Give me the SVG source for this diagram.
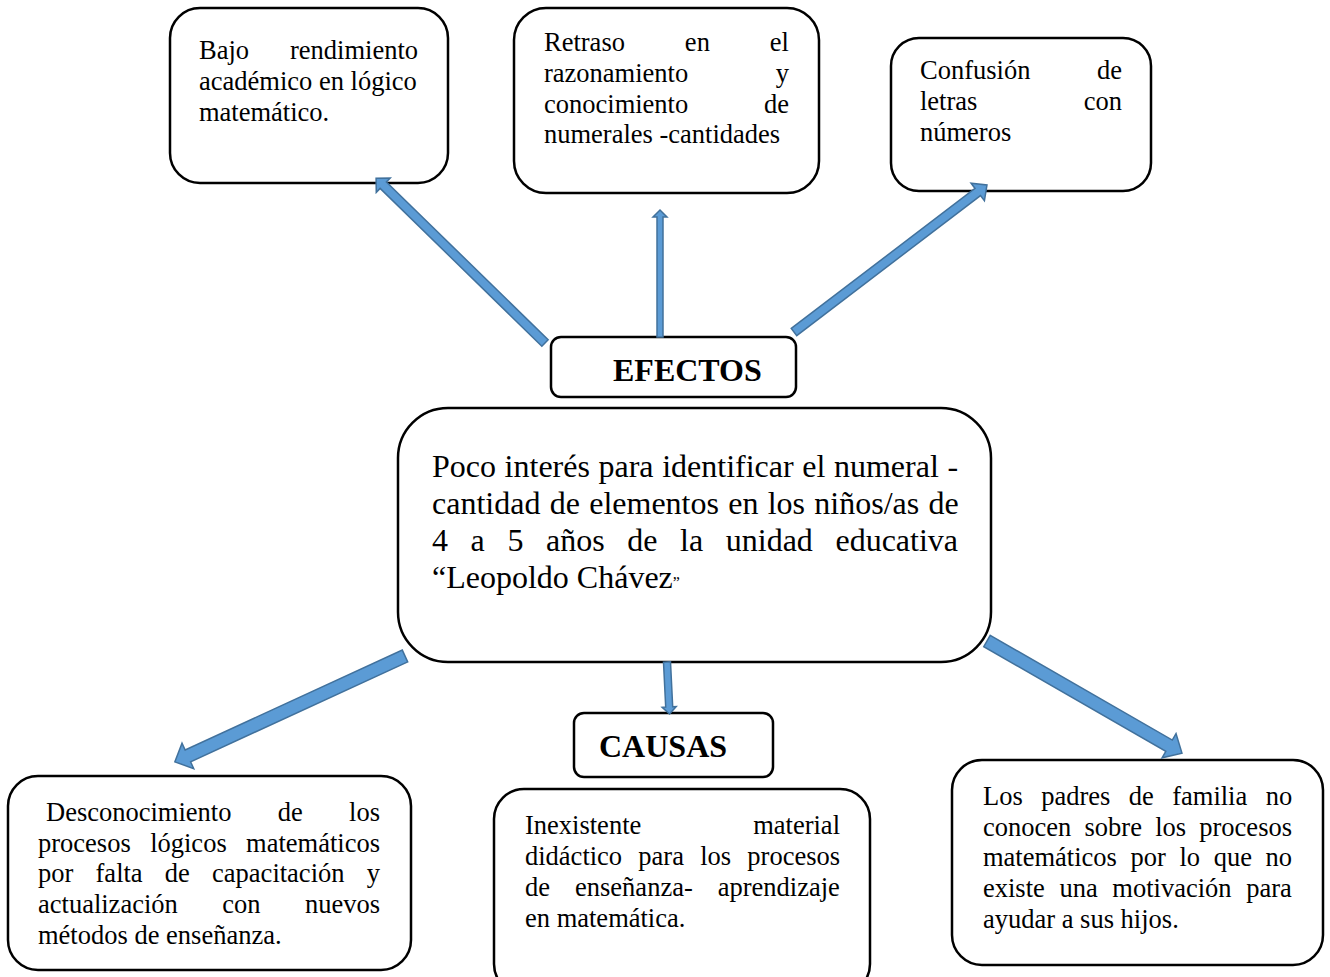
<svg xmlns="http://www.w3.org/2000/svg" width="1330" height="977" viewBox="0 0 1330 977">
<style>
.box{fill:#fff;stroke:#000;stroke-width:2.5}
.t{font-family:"Liberation Serif","Times New Roman",serif;font-size:26.5px;fill:#000}
.c{font-family:"Liberation Serif","Times New Roman",serif;font-size:32px;fill:#000}
.h{font-family:"Liberation Serif","Times New Roman",serif;font-size:32px;font-weight:bold;fill:#000}
.arr{fill:#5B9BD5;stroke:#41719C;stroke-width:1.5;stroke-linejoin:miter}
</style>
<rect width="1330" height="977" fill="#fff"/>
<g id="efecto1">
<rect class="box" x="170" y="8" width="278" height="175" rx="30"/>
<text class="t" x="199" y="59" word-spacing="34.3">Bajo rendimiento</text>
<text class="t" x="199" y="90">académico en lógico</text>
<text class="t" x="199" y="121">matemático.</text>
</g>
<g id="efecto2">
<rect class="box" x="514" y="8" width="305" height="185" rx="32"/>
<text class="t" x="544" y="51" word-spacing="53.3">Retraso en el</text>
<text class="t" x="544" y="82" word-spacing="80.9">razonamiento y</text>
<text class="t" x="544" y="113" word-spacing="69.1">conocimiento de</text>
<text class="t" x="544" y="143">numerales -cantidades</text>
</g>
<g id="efecto3">
<rect class="box" x="891" y="38" width="260" height="153" rx="28"/>
<text class="t" x="920" y="79" word-spacing="60">Confusión de</text>
<text class="t" x="920" y="110" word-spacing="99.7">letras con</text>
<text class="t" x="920" y="141">números</text>
</g>
<g id="efectos">
<rect class="box" x="551" y="337" width="245" height="60" rx="10"/>
<text class="h" x="613" y="381">EFECTOS</text>
</g>
<g id="problema">
<rect class="box" x="398" y="408" width="593" height="254" rx="50"/>
<text class="c" x="432" y="477" word-spacing="0.6">Poco interés para identificar el numeral -</text>
<text class="c" x="432" y="514" word-spacing="1.3">cantidad de elementos en los niños/as de</text>
<text class="c" x="432" y="551" word-spacing="14.6">4 a 5 años de la unidad educativa</text>
<text class="c" x="432" y="588">“Leopoldo Chávez<tspan font-size="16">”</tspan></text>
</g>
<g id="causas">
<rect class="box" x="574" y="713" width="199" height="64" rx="10"/>
<text class="h" x="599" y="757">CAUSAS</text>
</g>
<g id="causa1">
<rect class="box" x="8" y="776" width="403" height="194" rx="30"/>
<text class="t" x="46" y="821" word-spacing="39.7">Desconocimiento de los</text>
<text class="t" x="38" y="852" word-spacing="12.8">procesos lógicos matemáticos</text>
<text class="t" x="38" y="882" word-spacing="15.6">por falta de capacitación y</text>
<text class="t" x="38" y="913" word-spacing="37.8">actualización con nuevos</text>
<text class="t" x="38" y="944">métodos de enseñanza.</text>
</g>
<g id="causa2">
<rect class="box" x="494" y="789" width="376" height="205" rx="30"/>
<text class="t" x="525" y="834" word-spacing="105.3">Inexistente material</text>
<text class="t" x="525" y="865" word-spacing="9.6">didáctico para los procesos</text>
<text class="t" x="525" y="896" word-spacing="18.4">de enseñanza- aprendizaje</text>
<text class="t" x="525" y="927">en matemática.</text>
</g>
<g id="causa3">
<rect class="box" x="952" y="760" width="371" height="205" rx="30"/>
<text class="t" x="983" y="805" word-spacing="11.8">Los padres de familia no</text>
<text class="t" x="983" y="836" word-spacing="6.6">conocen sobre los procesos</text>
<text class="t" x="983" y="866" word-spacing="7">matemáticos por lo que no</text>
<text class="t" x="983" y="897" word-spacing="8">existe una motivación para</text>
<text class="t" x="983" y="928">ayudar a sus hijos.</text>
</g>
<g id="connectors">
<polygon class="arr" transform="translate(545,343) rotate(224.3)" points="0,-4.5 226,-4.5 226,-10 236,0 226,10 226,4.5 0,4.5"/>
<polygon class="arr" transform="translate(660,337) rotate(-90)" points="0,-3 120,-3 120,-7 127,0 120,7 120,3 0,3"/>
<polygon class="arr" transform="translate(794,332) rotate(-37.3)" points="0,-4.5 231,-4.5 231,-11 242.6,0 231,11 231,4.5 0,4.5"/>
<polygon class="arr" transform="translate(405,656) rotate(155.3)" points="0,-6.5 239,-6.5 239,-14 253.3,0 239,14 239,6.5 0,6.5"/>
<polygon class="arr" transform="translate(667,662) rotate(87.2)" points="0,-3.5 45,-3.5 45,-7 52,0 45,7 45,3.5 0,3.5"/>
<polygon class="arr" transform="translate(987,641) rotate(29.9)" points="0,-6.5 210,-6.5 210,-14 224.9,0 210,14 210,6.5 0,6.5"/>
</g>
</svg>
